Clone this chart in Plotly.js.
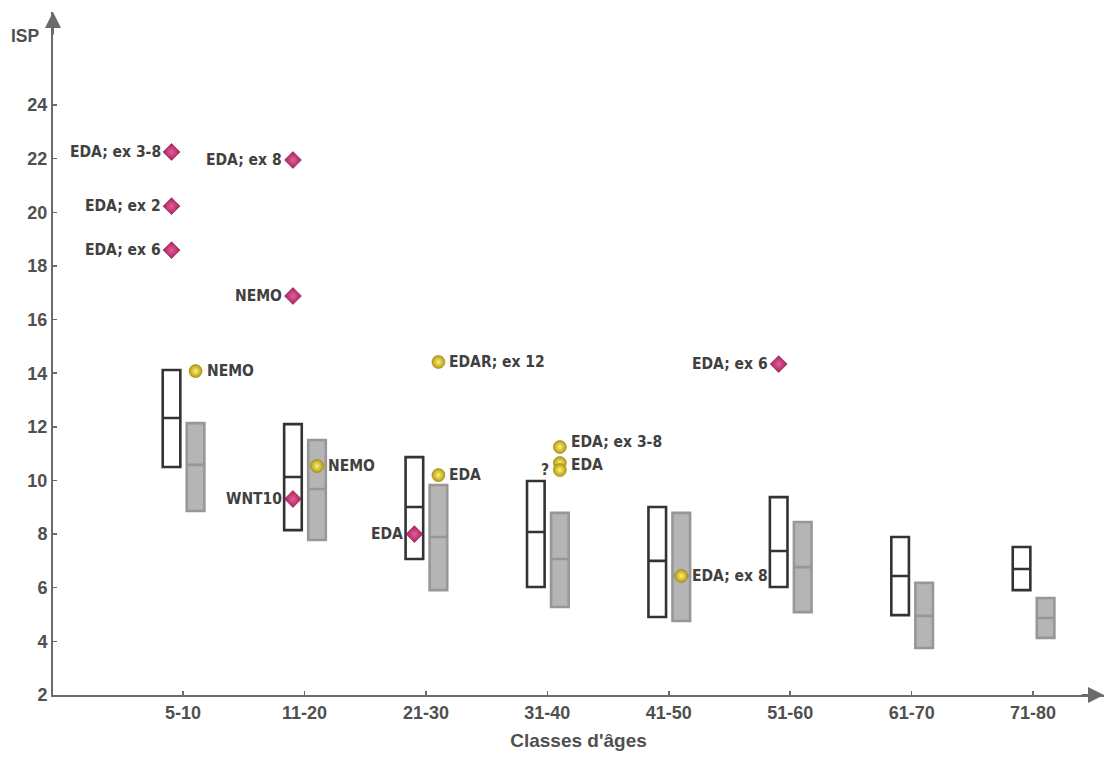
<!DOCTYPE html>
<html>
<head>
<meta charset="utf-8">
<script src="https://cdn.plot.ly/plotly-3.0.1.min.js"></script>
<style>html,body{margin:0;padding:0;background:#fff;}#chart{width:1110px;height:758px;}</style>
</head>
<body>
<div id="chart"></div>
<script>
// ---- data ----
const categories = ['5-10','11-20','21-30','31-40','41-50','51-60','61-70','71-80'];
// dark outlined boxes
const darkQ1     = [10.5, 8.15, 7.07, 6.03, 4.91, 6.03, 4.98, 5.91];
const darkMedian = [12.33, 10.13, 9.01, 8.08, 7.0, 7.37, 6.44, 6.70];
const darkQ3     = [14.12, 12.1, 10.87, 9.98, 9.01, 9.38, 7.89, 7.52];
// grey filled boxes
const greyQ1     = [8.86, 7.78, 5.91, 5.28, 4.76, 5.09, 3.75, 4.13];
const greyMedian = [10.58, 9.68, 7.89, 7.07, 6.45, 6.77, 4.95, 4.87];
const greyQ3     = [12.14, 11.51, 9.83, 8.79, 8.79, 8.45, 6.18, 5.62];
// magenta diamonds
const diamondCat   = ['5-10','5-10','5-10','11-20','11-20','11-20','21-30','51-60'];
const diamondValue = [22.25, 20.23, 18.59, 21.95, 16.88, 9.31, 8.0, 14.34];
const diamondLabel = ['EDA; ex 3-8','EDA; ex 2','EDA; ex 6','EDA; ex 8','NEMO','WNT10','EDA','EDA; ex 6'];
// yellow spheres
const sphereCat   = ['5-10','11-20','21-30','21-30','31-40','31-40','31-40','41-50'];
const sphereValue = [14.08, 10.54, 14.42, 10.2, 11.25, 10.65, 10.39, 6.44];
const sphereLabel = ['NEMO','NEMO','EDAR; ex 12','EDA','EDA; ex 3-8','EDA','?','EDA; ex 8'];
const sphereSide  = ['right','right','right','right','right','right','left','right'];
const yTicks = [2,4,6,8,10,12,14,16,18,20,22,24];

// ---- layout helpers ----
const DARK_OFF = -0.095, GREY_OFF = 0.103, BOX_W = 0.145;
const idx = c => categories.indexOf(c);
const catIdx = categories.map((c,i)=>i);
const labelFont = {family:'"Liberation Sans Narrow","DejaVu Sans Condensed","Arial Narrow",sans-serif', size:15.5, color:'#404040', weight:'bold'};
const tickFont = {family:'"Liberation Sans",Arial,sans-serif', size:18, color:'#505050', weight:'bold'};
const titleFont = {family:'"Liberation Sans",Arial,sans-serif', size:19, color:'#505050', weight:'bold'};
// small vertical nudges (px) for crowded sphere labels, by sphere index
const sphereNudge = {4: 5, 5: -2};

const traces = [
  {
    type:'box', x: catIdx.map(i=>i+DARK_OFF), q1: darkQ1, median: darkMedian, q3: darkQ3,
    lowerfence: darkQ1, upperfence: darkQ3, width: BOX_W, whiskerwidth: 0,
    fillcolor:'rgba(255,255,255,1)', line:{color:'#333', width:2.6}, boxpoints:false,
    hoverinfo:'skip', showlegend:false
  },
  {
    type:'box', x: catIdx.map(i=>i+GREY_OFF), q1: greyQ1, median: greyMedian, q3: greyQ3,
    lowerfence: greyQ1, upperfence: greyQ3, width: BOX_W, whiskerwidth: 0,
    fillcolor:'#b5b5b5', line:{color:'#979797', width:2.6}, boxpoints:false,
    hoverinfo:'skip', showlegend:false
  },
  {
    type:'scatter', mode:'markers',
    x: diamondCat.map(c=>idx(c)+DARK_OFF), y: diamondValue, cliponaxis:false,
    marker:{symbol:'diamond', size:13, color:'#a51f58', gradient:{type:'radial', color:'#e45e9a'}, line:{color:'#851645', width:0.6}},
    hoverinfo:'skip', showlegend:false
  },
  {
    type:'scatter', mode:'markers',
    x: sphereCat.map(c=>idx(c)+GREY_OFF), y: sphereValue, cliponaxis:false,
    marker:{symbol:'circle', size:13, color:'#b59c0e', gradient:{type:'radial', color:'#fbf07e'}, line:{color:'#98820a', width:0.6}},
    hoverinfo:'skip', showlegend:false
  }
];

const labelAnns = [];
diamondLabel.forEach((t,i)=>{
  labelAnns.push({xref:'x', yref:'y', x: idx(diamondCat[i])+DARK_OFF, y: diamondValue[i], text:t,
    showarrow:false, xanchor:'right', yanchor:'middle', xshift:-9, font:labelFont});
});
sphereLabel.forEach((t,i)=>{
  const left = sphereSide[i]==='left';
  labelAnns.push({xref:'x', yref:'y', x: idx(sphereCat[i])+GREY_OFF, y: sphereValue[i], text:t,
    showarrow:false, xanchor: left?'right':'left', yanchor:'middle', xshift: left?-9:9,
    yshift: sphereNudge[i]||0, font:labelFont});
});

const XMIN = -1.071, XMAX = 7.584, YMIN = 2, YMAX = 27.47;
const layout = {
  width:1110, height:758,
  margin:{l:53, r:6, t:12, b:63},
  paper_bgcolor:'#fff', plot_bgcolor:'#fff',
  xaxis:{
    range:[XMIN, XMAX], tickvals: catIdx, ticktext: categories,
    showgrid:false, zeroline:false, showline:true, linecolor:'#6b6b6b', linewidth:2,
    ticks:'inside', ticklen:4, tickwidth:1.5, tickcolor:'#6b6b6b',
    tickfont: tickFont,
    title:{text:"Classes d'âges", font:titleFont, standoff:12}
  },
  yaxis:{
    range:[YMIN, YMAX], tickvals: yTicks,
    showgrid:false, zeroline:false, showline:true, linecolor:'#6b6b6b', linewidth:2,
    ticks:'inside', ticklen:4, tickwidth:1.5, tickcolor:'#6b6b6b',
    tickfont: tickFont
  },
  annotations: [
    {xref:'x', yref:'y', x:XMAX, y:YMIN, ax:-24, ay:0, text:'', showarrow:true, arrowhead:2, arrowsize:1.6, arrowwidth:2, arrowcolor:'#6b6b6b'},
    {xref:'paper', yref:'y', x:0, y:YMAX, ax:0, ay:24, text:'', showarrow:true, arrowhead:2, arrowsize:1.6, arrowwidth:2, arrowcolor:'#6b6b6b'},
    {xref:'paper', yref:'paper', x:-0.0265, y:0.965, text:'ISP', showarrow:false, xanchor:'center', yanchor:'middle', font:{...tickFont, size:17.5}}
  ].concat(labelAnns)
};

Plotly.newPlot('chart', traces, layout, {displayModeBar:false, staticPlot:true});
</script>
</body>
</html>
